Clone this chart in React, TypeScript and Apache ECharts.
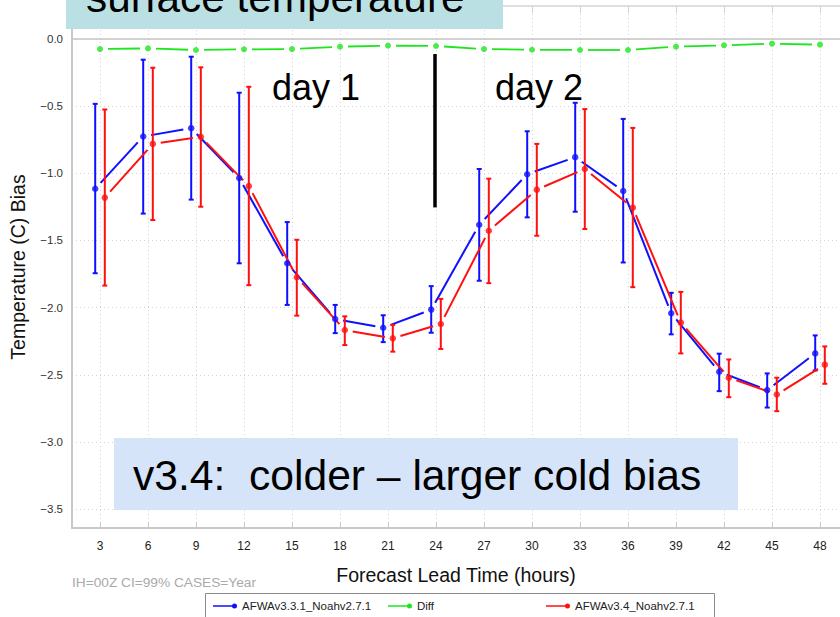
import React, { useEffect, useRef } from 'react';
import * as echarts from 'echarts';

const hours = [3, 6, 9, 12, 15, 18, 21, 24, 27, 30, 33, 36, 39, 42, 45, 48];
const yTicks = [0, -0.5, -1, -1.5, -2, -2.5, -3, -3.5];

const blueName = 'AFWAv3.3.1_Noahv2.7.1';
const redName = 'AFWAv3.4_Noahv2.7.1';
const diffName = 'Diff';

const blueMean = [-1.115, -0.726, -0.664, -1.035, -1.67, -2.085, -2.15, -2.015, -1.383, -1.007, -0.88, -1.132, -2.042, -2.478, -2.614, -2.341];
const blueHi = [-0.483, -0.154, -0.132, -0.4, -1.363, -1.98, -2.057, -1.84, -0.968, -0.687, -0.475, -0.595, -1.89, -2.343, -2.49, -2.207];
const blueLo = [-1.744, -1.3, -1.196, -1.67, -1.98, -2.19, -2.257, -2.187, -1.8, -1.328, -1.286, -1.664, -2.199, -2.622, -2.744, -2.468];

const redMean = [-1.181, -0.781, -0.729, -1.095, -1.774, -2.167, -2.229, -2.122, -1.428, -1.122, -0.968, -1.256, -2.112, -2.522, -2.647, -2.425];
const redHi = [-0.525, -0.214, -0.211, -0.356, -1.495, -2.065, -2.129, -1.935, -1.04, -0.781, -0.522, -0.662, -1.883, -2.386, -2.522, -2.289];
const redLo = [-1.836, -1.348, -1.249, -1.833, -2.06, -2.279, -2.328, -2.308, -1.818, -1.465, -1.415, -1.848, -2.341, -2.667, -2.771, -2.567];

const diff = [-0.075, -0.07, -0.082, -0.077, -0.075, -0.057, -0.05, -0.052, -0.075, -0.08, -0.082, -0.082, -0.057, -0.047, -0.035, -0.042];

// divider between day 1 and day 2 (hour, top value, bottom value)
const dividerHour = 23.9;
const dividerTop = -0.112;
const dividerBottom = -1.254;

const BLUE = '#1010ff';
const RED = '#ff1010';
const GREEN = '#1ee61e';
const DODGE = 0.3;
const FONT = '"Liberation Sans", Arial, Helvetica, sans-serif';

const ICON = 'path://M0,2.25 L20,2.25 L20,3.75 L0,3.75 Z M24,3 A2.5,2.5 0 1 1 19,3 A2.5,2.5 0 1 1 24,3 Z';

function gapSegment(p: number[], q: number[], gap: number, color: string, lw: number) {
  const dx = q[0] - p[0];
  const dy = q[1] - p[1];
  const d = Math.hypot(dx, dy);
  if (d <= 2 * gap) return null;
  const ux = dx / d;
  const uy = dy / d;
  return {
    type: 'line',
    shape: { x1: p[0] + ux * gap, y1: p[1] + uy * gap, x2: q[0] - ux * gap, y2: q[1] - uy * gap },
    style: { stroke: color, lineWidth: lw },
  };
}

function errorSeries(name: string, color: string, xs: number[], mean: number[], lo: number[], hi: number[]) {
  const data = xs.map((x, i) => [x, mean[i], lo[i], hi[i]]);
  return {
    type: 'custom',
    name,
    coordinateSystem: 'cartesian2d',
    itemStyle: { color },
    encode: { x: 0, y: [1, 2, 3] },
    data,
    renderItem: (params: any, api: any) => {
      const i = params.dataIndex;
      const x = api.value(0);
      const p = api.coord([x, api.value(1)]);
      const pl = api.coord([x, api.value(2)]);
      const ph = api.coord([x, api.value(3)]);
      const cap = 2.5;
      const st = { stroke: color, lineWidth: 2 };
      const children: any[] = [
        { type: 'line', shape: { x1: pl[0], y1: pl[1], x2: ph[0], y2: ph[1] }, style: st },
        { type: 'line', shape: { x1: pl[0] - cap, y1: pl[1], x2: pl[0] + cap, y2: pl[1] }, style: st },
        { type: 'line', shape: { x1: ph[0] - cap, y1: ph[1], x2: ph[0] + cap, y2: ph[1] }, style: st },
      ];
      if (i < data.length - 1) {
        const q = api.coord([data[i + 1][0], data[i + 1][1]]);
        const seg = gapSegment(p, q, 8, color, 2);
        if (seg) children.push(seg);
      }
      return { type: 'group', children };
    },
  };
}

function lineGapSeries(name: string, color: string, xs: number[], vals: number[]) {
  const data = xs.map((x, i) => [x, vals[i]]);
  return {
    type: 'custom',
    name,
    coordinateSystem: 'cartesian2d',
    itemStyle: { color },
    encode: { x: 0, y: 1 },
    data,
    renderItem: (params: any, api: any) => {
      const i = params.dataIndex;
      const children: any[] = [];
      if (i < data.length - 1) {
        const p = api.coord([api.value(0), api.value(1)]);
        const q = api.coord([data[i + 1][0], data[i + 1][1]]);
        const seg = gapSegment(p, q, 8, color, 1.8);
        if (seg) children.push(seg);
      }
      return { type: 'group', children };
    },
  };
}

function pointSeries(name: string, color: string, xs: number[], vals: number[], size: number, extra: any = {}) {
  return {
    type: 'scatter',
    name,
    symbol: 'circle',
    symbolSize: size,
    itemStyle: { color },
    data: xs.map((x, i) => [x, vals[i]]),
    ...extra,
  };
}

const blueX = hours.map((h) => h - DODGE);
const redX = hours.map((h) => h + DODGE);

function legendAt(name: string, left: number) {
  return {
    data: [{ name, icon: ICON }],
    left,
    top: 600,
    itemWidth: 24,
    itemHeight: 5,
    selectedMode: false,
    padding: 0,
    textStyle: { fontSize: 11.5, color: '#222', fontFamily: FONT },
  };
}

export default function App() {
  const ref = useRef<HTMLDivElement>(null);
  useEffect(() => {
    if (!ref.current) return;
    const chart = echarts.init(ref.current, undefined, { renderer: 'svg' });
    const gridLine = { show: true, lineStyle: { color: '#d2d2d2', width: 1, type: [1, 3] } };
    const option: any = {
      animation: false,
      textStyle: { fontFamily: FONT },
      grid: { left: 71, right: 0, top: 6, bottom: 89, containLabel: false },
      xAxis: [
        {
          type: 'value',
          position: 'bottom',
          min: 1.25,
          max: 49.25,
          name: 'Forecast Lead Time (hours)',
          nameLocation: 'middle',
          nameGap: 37,
          nameTextStyle: { fontSize: 19.5, color: '#111', fontFamily: FONT },
          axisLine: { show: true, onZero: false, lineStyle: { color: '#c8c8c8', width: 2 } },
          axisTick: { show: true, inside: true, length: 6, customValues: hours, lineStyle: { color: '#c8c8c8' } },
          axisLabel: { customValues: hours, fontSize: 12, color: '#222', margin: 12, fontFamily: FONT },
          splitLine: gridLine,
        },
        {
          type: 'value',
          position: 'top',
          min: 1.25,
          max: 49.25,
          axisLine: { show: true, onZero: false, lineStyle: { color: '#d4d4d4', width: 1.5 } },
          axisTick: { show: true, inside: true, length: 7, customValues: hours, lineStyle: { color: '#d4d4d4' } },
          axisLabel: { show: false },
          splitLine: { show: false },
        },
      ],
      yAxis: {
        type: 'value',
        min: -3.641,
        max: 0.2457,
        name: 'Temperature (C) Bias',
        nameLocation: 'middle',
        nameGap: 44,
        nameTextStyle: { fontSize: 19.5, color: '#111', fontFamily: FONT },
        axisLine: { show: true, onZero: false, lineStyle: { color: '#c8c8c8', width: 2 } },
        axisTick: { show: false, customValues: yTicks },
        axisLabel: {
          customValues: yTicks,
          fontSize: 11.5,
          color: '#333',
          margin: 9,
          fontFamily: FONT,
          formatter: (v: number) => (Math.abs(v) < 1e-9 ? '0.0' : v.toFixed(1).replace('-', '\u2212')),
        },
        splitLine: gridLine,
      },
      legend: [legendAt(blueName, 213), legendAt(diffName, 388), legendAt(redName, 546)],
      series: [
        lineGapSeries(diffName, GREEN, hours, diff),
        pointSeries(diffName, GREEN, hours, diff, 6, {
          markLine: {
            silent: true,
            symbol: ['none', 'none'],
            label: { show: false },
            animation: false,
            data: [
              { yAxis: 0, lineStyle: { color: '#c4c4c4', width: 1.6, type: 'solid' } },
              [
                { coord: [dividerHour, dividerTop], lineStyle: { color: '#000', width: 3.5, type: 'solid' } },
                { coord: [dividerHour, dividerBottom] },
              ],
            ],
          },
        }),
        errorSeries(blueName, BLUE, blueX, blueMean, blueLo, blueHi),
        pointSeries(blueName, BLUE, blueX, blueMean, 6.5),
        errorSeries(redName, RED, redX, redMean, redLo, redHi),
        pointSeries(redName, RED, redX, redMean, 6.5),
      ],
      graphic: [
        { type: 'rect', z: 0, shape: { x: 205.5, y: 593.5, width: 509, height: 30 }, style: { fill: '#fff', stroke: '#8a8a8a', lineWidth: 1 } },
        { type: 'rect', z: 10, shape: { x: 66, y: 0, width: 437, height: 29 }, style: { fill: '#bbe0e3' } },
        {
          type: 'text', z: 11, x: 86, y: -2.6,
          style: { text: 'surface temperature', fontSize: 42.3, fontFamily: FONT, fill: '#000', align: 'left', verticalAlign: 'middle' },
        },
        { type: 'rect', z: 10, shape: { x: 114, y: 438, width: 624, height: 72 }, style: { fill: '#d6e4fa' } },
        {
          type: 'text', z: 11, x: 133, y: 474.5,
          style: { text: 'v3.4:  colder \u2013 larger cold bias', fontSize: 42.6, fontFamily: FONT, fill: '#000', align: 'left', verticalAlign: 'middle' },
        },
        {
          type: 'text', z: 11, x: 272, y: 87.5,
          style: { text: 'day 1', fontSize: 36, fontFamily: FONT, fill: '#000', align: 'left', verticalAlign: 'middle' },
        },
        {
          type: 'text', z: 11, x: 495, y: 87.5,
          style: { text: 'day 2', fontSize: 36, fontFamily: FONT, fill: '#000', align: 'left', verticalAlign: 'middle' },
        },
        {
          type: 'text', z: 11, x: 72, y: 582,
          style: { text: 'IH=00Z CI=99% CASES=Year', fontSize: 13.7, fontFamily: FONT, fill: '#aaaaaa', align: 'left', verticalAlign: 'middle' },
        },
      ],
    };
    chart.setOption(option);
    return () => chart.dispose();
  }, []);
  return <div ref={ref} style={{ position: 'fixed', left: 0, top: 0, width: 840, height: 617, background: '#fff' }} />;
}
